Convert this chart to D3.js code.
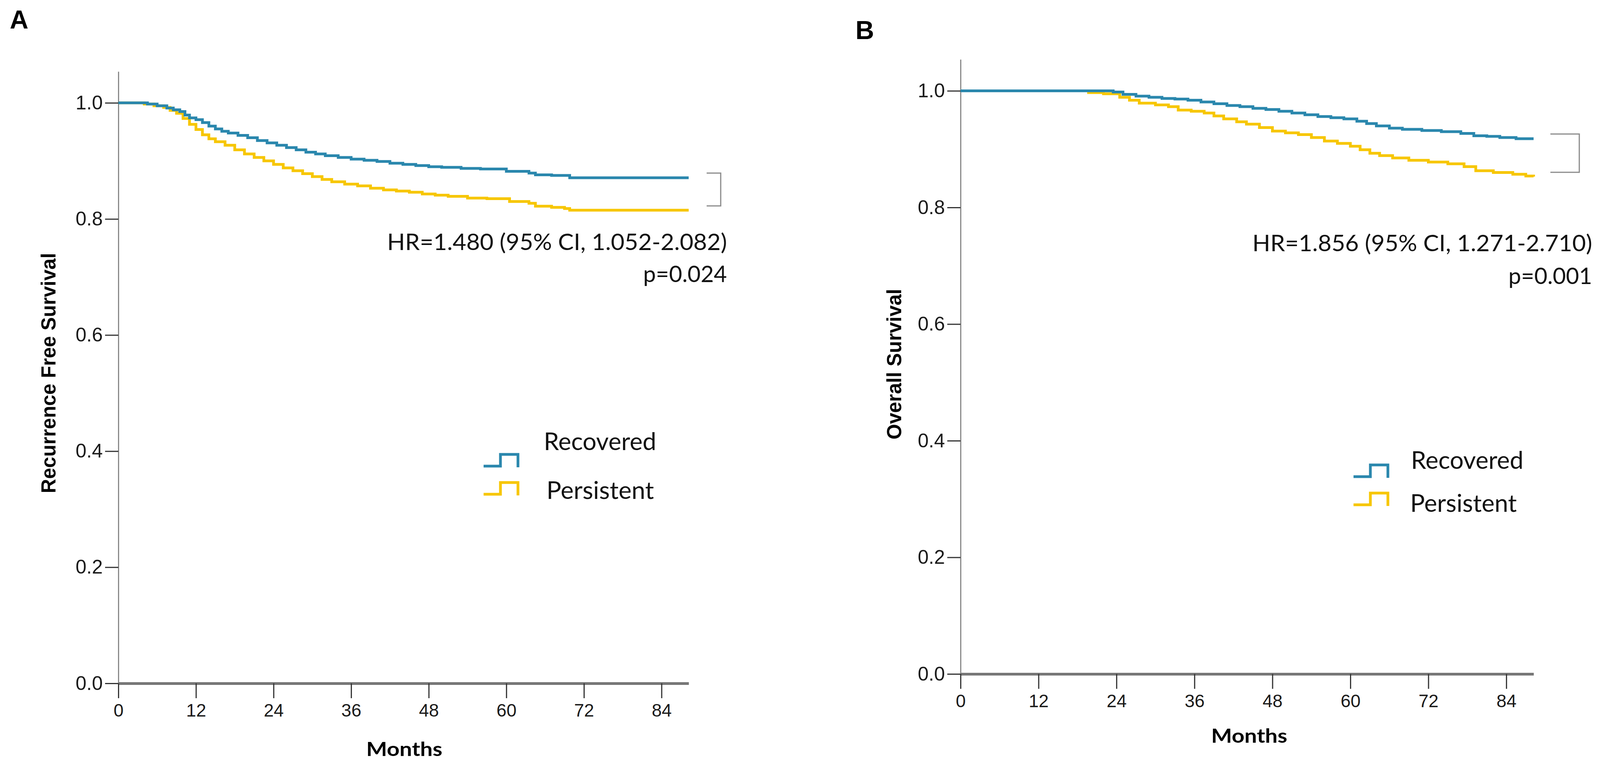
<!DOCTYPE html>
<html>
<head>
<meta charset="utf-8">
<script src="https://cdn.jsdelivr.net/npm/d3@7"></script>
<style>
  html, body { margin: 0; padding: 0; background: #fff; }
</style>
</head>
<body>
<div id="chart"></div>
<script>
// ---- data ----
const monthTicks = [0, 12, 24, 36, 48, 60, 72, 84];
const survTicks = [0, 0.2, 0.4, 0.6, 0.8, 1.0];
const groups = ["Recovered", "Persistent"];

// Panel A: recurrence free survival
const rfsRecoveredMonths = [0, 4.5, 6, 7.5, 8.5, 9.5, 10.3, 11, 12, 13, 14, 15, 16, 17, 18.5, 20, 21.5, 23, 24.5, 26, 27.5, 29, 30.5, 32, 34, 36, 38, 40, 42, 44, 46, 48, 50, 53, 56, 60, 63.5, 64.5, 67, 69.8, 88.2];
const rfsRecoveredSurv = [1, 0.998, 0.995, 0.991, 0.988, 0.985, 0.979, 0.974, 0.971, 0.966, 0.96, 0.955, 0.951, 0.948, 0.944, 0.94, 0.935, 0.931, 0.927, 0.923, 0.919, 0.915, 0.912, 0.909, 0.906, 0.903, 0.901, 0.899, 0.896, 0.894, 0.892, 0.89, 0.889, 0.887, 0.886, 0.882, 0.879, 0.876, 0.875, 0.871, 0.871];
const rfsPersistentMonths = [0, 4, 5.5, 7, 8, 9, 10, 11, 12, 13, 14, 15, 16.5, 18, 19.5, 21, 22.5, 24, 25.5, 27, 28.5, 30, 31.5, 33, 35, 37, 39, 41, 43, 45, 47, 49, 51, 54, 57, 60.5, 63.5, 64.5, 67, 69, 69.8, 88.2];
const rfsPersistentSurv = [1, 0.998, 0.995, 0.992, 0.987, 0.982, 0.973, 0.963, 0.954, 0.945, 0.938, 0.933, 0.927, 0.919, 0.912, 0.906, 0.9, 0.894, 0.888, 0.883, 0.878, 0.873, 0.868, 0.864, 0.86, 0.857, 0.853, 0.85, 0.848, 0.846, 0.843, 0.841, 0.839, 0.836, 0.835, 0.83, 0.827, 0.822, 0.82, 0.818, 0.815, 0.815];

// Panel B: overall survival
const osRecoveredMonths = [0, 23.5, 25, 27, 29, 31, 33, 35, 37, 39, 41, 43, 45, 47, 49, 51, 53, 55, 57, 59, 61, 62.5, 64, 66, 68, 71, 74, 77, 79, 81, 83, 85.5, 88.2];
const osRecoveredSurv = [1, 0.998, 0.994, 0.991, 0.989, 0.987, 0.986, 0.984, 0.981, 0.978, 0.975, 0.973, 0.97, 0.968, 0.965, 0.962, 0.959, 0.956, 0.954, 0.952, 0.948, 0.944, 0.94, 0.936, 0.934, 0.932, 0.93, 0.927, 0.923, 0.922, 0.92, 0.918, 0.918];
const osPersistentMonths = [0, 19.7, 22, 24.5, 26, 27.5, 30, 32, 33.5, 35.5, 37.5, 39, 40.5, 42.5, 44, 46, 48, 50, 52, 54, 56, 58, 60, 61.5, 63, 64.5, 66.5, 69, 72, 75, 77.5, 79.3, 82, 85, 87, 88.2];
const osPersistentSurv = [1, 0.997, 0.995, 0.989, 0.984, 0.979, 0.976, 0.973, 0.967, 0.965, 0.962, 0.957, 0.952, 0.947, 0.943, 0.937, 0.931, 0.928, 0.925, 0.92, 0.914, 0.91, 0.905, 0.899, 0.893, 0.889, 0.885, 0.881, 0.878, 0.875, 0.87, 0.863, 0.86, 0.857, 0.854, 0.853];

const hrTexts = ["HR=1.480 (95% CI, 1.052-2.082)", "HR=1.856 (95% CI, 1.271-2.710)"];
const pTexts = ["p=0.024", "p=0.001"];
const yTitles = ["Recurrence Free Survival", "Overall Survival"];
const panelLetters = ["A", "B"];

// ---- layout ----
const colors = { Recovered: "#2a87ad", Persistent: "#f7c600" };
const tickFont = "'Liberation Sans', Arial, sans-serif";
const noteFont = "Lato, 'Open Sans', sans-serif";

const panels = [
  {
    letter: panelLetters[0], letterX: 25, letterY: 73,
    xRange: [303, 1763], yRange: [1749, 183],
    yTitle: yTitles[0], yTitleX: 142, yTitleY: 955,
    monthsX: 1035, monthsY: 1935,
    hr: hrTexts[0], p: pTexts[0], noteRight: 1861, hrY: 640, pY: 722,
    bracketX: 1809, bracketW: 36,
    legendX: 1238, legendY: [1193, 1265], legendTextX: [1392, 1399], legendTextY: [1152, 1277], legendTextW: [288, 275],
    recovered: d3.zip(rfsRecoveredMonths, rfsRecoveredSurv),
    persistent: d3.zip(rfsPersistentMonths, rfsPersistentSurv)
  },
  {
    letter: panelLetters[1], letterX: 2190, letterY: 100,
    xRange: [2459, 3926], yRange: [1725, 152],
    yTitle: yTitles[1], yTitleX: 2307, yTitleY: 932,
    monthsX: 3198, monthsY: 1901,
    hr: hrTexts[1], p: pTexts[1], noteRight: 4076, hrY: 643, pY: 727,
    bracketX: 3969, bracketW: 74,
    legendX: 3465, legendY: [1220, 1292], legendTextX: [3612, 3610], legendTextY: [1200, 1310], legendTextW: [288, 273],
    recovered: d3.zip(osRecoveredMonths, osRecoveredSurv),
    persistent: d3.zip(osPersistentMonths, osPersistentSurv)
  }
];

const svg = d3.select("#chart").append("svg")
  .attr("width", 4108)
  .attr("height", 1958)
  .style("display", "block");

svg.append("rect").attr("width", 4108).attr("height", 1958).attr("fill", "#fff");

panels.forEach(cfg => {
  const g = svg.append("g");

  const x = d3.scaleLinear().domain([0, 88.2]).range(cfg.xRange);
  const y = d3.scaleLinear().domain([0, 1.054]).range(cfg.yRange);

  // panel letter
  g.append("text")
    .attr("x", cfg.letterX).attr("y", cfg.letterY)
    .attr("font-family", tickFont).attr("font-weight", "bold")
    .attr("font-size", 66).attr("fill", "#000")
    .text(cfg.letter);

  // y axis
  const yAxis = g.append("g")
    .attr("transform", `translate(${cfg.xRange[0]},0)`)
    .call(d3.axisLeft(y).tickValues(survTicks).tickFormat(d3.format(".1f")).tickSize(34).tickSizeOuter(0).tickPadding(6));
  yAxis.select(".domain").attr("stroke", "#8a8a8a").attr("stroke-width", 3);
  yAxis.selectAll(".tick line").attr("stroke", "#333").attr("stroke-width", 3);
  yAxis.selectAll(".tick text")
    .attr("font-family", tickFont).attr("font-size", 50).attr("fill", "#1a1a1a");

  // x axis
  const xAxis = g.append("g")
    .attr("transform", `translate(0,${y(0)})`)
    .call(d3.axisBottom(x).tickValues(monthTicks).tickSize(38).tickSizeOuter(0).tickPadding(14));
  xAxis.select(".domain").attr("stroke", "#777").attr("stroke-width", 7);
  xAxis.selectAll(".tick line").attr("stroke", "#333").attr("stroke-width", 3);
  xAxis.selectAll(".tick text")
    .attr("font-family", tickFont).attr("font-size", 46).attr("fill", "#1a1a1a");

  // axis titles
  g.append("text")
    .attr("transform", `translate(${cfg.yTitleX},${cfg.yTitleY}) rotate(-90)`)
    .attr("text-anchor", "middle")
    .attr("font-family", tickFont).attr("font-weight", "bold")
    .attr("font-size", 51).attr("fill", "#000")
    .text(cfg.yTitle);

  g.append("text")
    .attr("x", cfg.monthsX).attr("y", cfg.monthsY)
    .attr("text-anchor", "middle")
    .attr("font-family", noteFont).attr("font-weight", "bold")
    .attr("font-size", 50).attr("fill", "#000")
    .attr("textLength", 195).attr("lengthAdjust", "spacingAndGlyphs")
    .text("Months");

  // survival curves
  const line = d3.line()
    .x(d => x(d[0]))
    .y(d => y(d[1]))
    .curve(d3.curveStepAfter);

  [["Persistent", cfg.persistent], ["Recovered", cfg.recovered]].forEach(([name, pts]) => {
    g.append("path")
      .datum(pts)
      .attr("fill", "none")
      .attr("stroke", colors[name])
      .attr("stroke-width", 7)
      .attr("d", line);
  });

  // bracket linking the two curve ends
  const endRec = cfg.recovered[cfg.recovered.length - 1];
  const endPer = cfg.persistent[cfg.persistent.length - 1];
  const bTop = y(endRec[1]) - 12, bBot = y(endPer[1]) - 11;
  const bx0 = cfg.bracketX, bx1 = cfg.bracketX + cfg.bracketW;
  g.append("path")
    .attr("d", d3.line()([[bx0, bTop], [bx1, bTop], [bx1, bBot], [bx0, bBot]]))
    .attr("fill", "none").attr("stroke", "#8a8a8a").attr("stroke-width", 3);

  // HR and p value
  g.append("text")
    .attr("x", cfg.noteRight).attr("y", cfg.hrY)
    .attr("text-anchor", "end")
    .attr("font-family", noteFont).attr("font-size", 58).attr("fill", "#111")
    .attr("textLength", 870).attr("lengthAdjust", "spacingAndGlyphs")
    .text(cfg.hr);
  g.append("text")
    .attr("x", cfg.noteRight).attr("y", cfg.pY)
    .attr("text-anchor", "end")
    .attr("font-family", noteFont).attr("font-size", 58).attr("fill", "#111")
    .text(cfg.p);

  // legend
  const sym = d3.scaleLinear().domain([0, 1]);
  groups.forEach((name, i) => {
    const sx = sym.copy().range([cfg.legendX, cfg.legendX + 88]);
    const sy = sym.copy().range([cfg.legendY[i], cfg.legendY[i] - 30]);
    g.append("path")
      .attr("d", d3.line()([[sx(0), sy(0)], [sx(0.49), sy(0)], [sx(0.49), sy(1)], [sx(1), sy(1)], [sx(1), sy(-0.1)]]))
      .attr("fill", "none")
      .attr("stroke", colors[name])
      .attr("stroke-width", 7);
    g.append("text")
      .attr("x", cfg.legendTextX[i]).attr("y", cfg.legendTextY[i])
      .attr("font-family", noteFont).attr("font-size", 62).attr("fill", "#111")
      .attr("textLength", cfg.legendTextW[i]).attr("lengthAdjust", "spacingAndGlyphs")
      .text(name);
  });
});
</script>
</body>
</html>
